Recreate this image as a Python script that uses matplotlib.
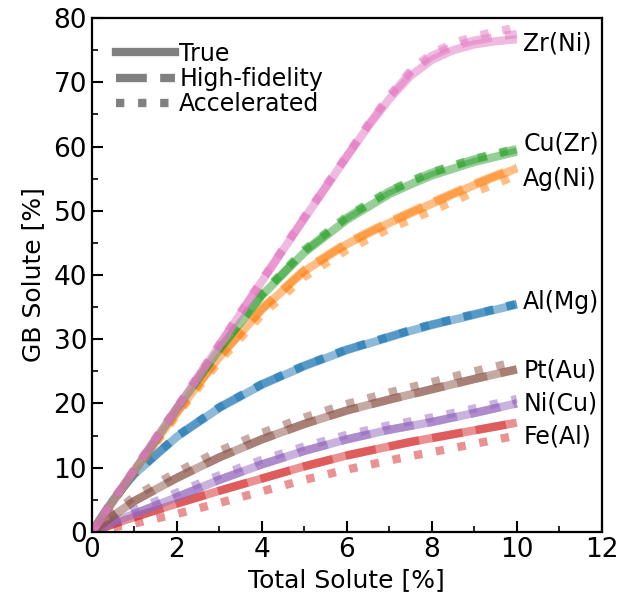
import matplotlib
matplotlib.use("Agg")
import matplotlib.pyplot as plt
from matplotlib.lines import Line2D
from matplotlib.ticker import MultipleLocator

# ---- data ----
x = [0, 0.5, 1, 2, 3, 4, 5, 6, 7, 7.5, 8, 9, 10]
x_zr = [0, 0.5, 1, 2, 3, 4, 5, 6, 6.5, 7, 7.5, 8, 8.5, 9, 9.5, 10]

names = ["Al(Mg)", "Ag(Ni)", "Cu(Zr)", "Fe(Al)", "Ni(Cu)", "Pt(Au)", "Zr(Ni)"]

al_true = [0, 5.0, 9.0, 14.8, 19.3, 22.9, 25.8, 28.3, 30.3, 31.3, 32.2, 33.8, 35.4]
al_hf   = [0, 5.0, 9.1, 14.9, 19.4, 23.0, 25.9, 28.4, 30.4, 31.4, 32.3, 33.9, 35.5]
al_acc  = [0, 5.0, 9.1, 14.9, 19.4, 23.0, 25.9, 28.4, 30.4, 31.4, 32.3, 33.9, 35.5]

ag_true = [0, 4.8, 9.5, 18.6, 27.2, 34.6, 40.6, 44.8, 48.1, 49.6, 51.1, 54.0, 56.6]
ag_hf   = [0, 4.8, 9.5, 18.6, 27.3, 34.8, 40.8, 45.0, 48.3, 49.8, 51.3, 54.2, 56.8]
ag_acc  = [0, 4.7, 9.3, 18.2, 26.6, 33.8, 39.7, 43.9, 47.2, 48.6, 50.0, 52.9, 55.5]

cu_true = [0, 4.8, 9.5, 19.2, 28.4, 36.8, 43.5, 48.6, 52.6, 54.1, 55.5, 57.6, 59.2]
cu_hf   = [0, 4.8, 9.5, 19.2, 28.4, 36.9, 43.7, 48.9, 53.0, 54.5, 55.9, 58.0, 59.6]
cu_acc  = [0, 4.8, 9.6, 19.3, 28.6, 37.1, 43.9, 49.1, 53.1, 54.6, 56.0, 58.1, 59.7]

fe_true = [0, 1.2, 2.3, 4.4, 6.4, 8.3, 10.2, 11.9, 13.3, 14.0, 14.6, 15.8, 17.0]
fe_hf   = [0, 1.2, 2.3, 4.4, 6.4, 8.3, 10.2, 11.9, 13.3, 14.0, 14.6, 15.8, 17.0]
fe_acc  = [0, 0.7, 1.3, 2.8, 4.5, 6.3, 8.1, 9.7, 11.1, 11.8, 12.4, 13.7, 15.0]

ni_true = [0, 1.5, 2.8, 5.4, 8.1, 10.5, 12.6, 14.4, 15.9, 16.5, 17.1, 18.5, 20.0]
ni_hf   = [0, 1.5, 2.8, 5.4, 8.1, 10.5, 12.6, 14.4, 15.9, 16.5, 17.1, 18.5, 20.0]
ni_acc  = [0, 1.8, 3.4, 6.1, 8.8, 11.2, 13.3, 15.1, 16.6, 17.2, 17.8, 19.2, 20.7]

pt_true = [0, 2.5, 4.8, 8.4, 11.6, 14.4, 16.8, 18.9, 20.6, 21.4, 22.2, 23.8, 25.3]
pt_hf   = [0, 2.5, 4.8, 8.4, 11.6, 14.4, 16.8, 18.9, 20.6, 21.4, 22.2, 23.8, 25.3]
pt_acc  = [0, 2.9, 5.5, 9.3, 12.6, 15.4, 17.8, 19.9, 21.7, 22.5, 23.3, 25.0, 26.5]

zr_true = [0, 4.8, 9.6, 19.2, 29.0, 39.0, 48.8, 58.4, 63.1, 67.4, 71.0, 73.5, 75.0, 75.9, 76.4, 76.7]
zr_hf   = [0, 4.9, 9.7, 19.3, 29.1, 39.1, 48.9, 58.5, 63.3, 67.7, 71.5, 74.1, 75.6, 76.5, 77.1, 77.5]
zr_acc  = [0, 5.0, 9.8, 19.4, 29.2, 39.2, 49.0, 58.6, 63.4, 67.9, 71.8, 74.5, 76.1, 77.1, 77.9, 78.5]

label_y = [35.8, 55.0, 60.5, 14.8, 20.0, 25.2, 76.0]

colors = ["C0", "C1", "C2", "C3", "C4", "C5", "C6"]

series = [
    (x, al_true, al_hf, al_acc),
    (x, ag_true, ag_hf, ag_acc),
    (x, cu_true, cu_hf, cu_acc),
    (x, fe_true, fe_hf, fe_acc),
    (x, ni_true, ni_hf, ni_acc),
    (x, pt_true, pt_hf, pt_acc),
    (x_zr, zr_true, zr_hf, zr_acc),
]

# ---- plot ----
fig = plt.figure(figsize=(6.21, 6.03), dpi=100)
ax = fig.add_axes([0.148, 0.118, 0.821, 0.852])

lw = 6
for (xs, yt, yh, ya), c, name, ly in zip(series, colors, names, label_y):
    ax.plot(xs, yt, color=c, lw=lw, alpha=0.5, solid_capstyle="butt")
    ax.plot(xs, yh, color=c, lw=lw, alpha=0.5, ls="--")
    ax.plot(xs, ya, color=c, lw=lw, alpha=0.5, ls=":")
    ax.text(10.15, ly, name, fontsize=17, va="center", ha="left")

ax.set_xlim(0, 12)
ax.set_ylim(0, 80)
ax.xaxis.set_major_locator(MultipleLocator(2))
ax.xaxis.set_minor_locator(MultipleLocator(1))
ax.yaxis.set_major_locator(MultipleLocator(10))
ax.yaxis.set_minor_locator(MultipleLocator(5))
ax.tick_params(which="major", direction="in", length=8, width=1.5, labelsize=19)
ax.tick_params(which="minor", direction="in", length=4, width=1.2)
for s in ax.spines.values():
    s.set_linewidth(1.6)

ax.set_xlabel("Total Solute [%]", fontsize=18, labelpad=4)
ax.set_ylabel("GB Solute [%]", fontsize=18, labelpad=6)

handles = [
    Line2D([], [], color="gray", lw=lw, ls="-"),
    Line2D([], [], color="gray", lw=lw, ls="--"),
    Line2D([], [], color="gray", lw=lw, ls=":"),
]
ax.legend(handles, ["True", "High-fidelity", "Accelerated"], loc="upper left",
          frameon=False, fontsize=17, handlelength=2.5, handletextpad=0.2,
          labelspacing=0.05, borderaxespad=0.6)

fig.savefig("out.png", dpi=100)
